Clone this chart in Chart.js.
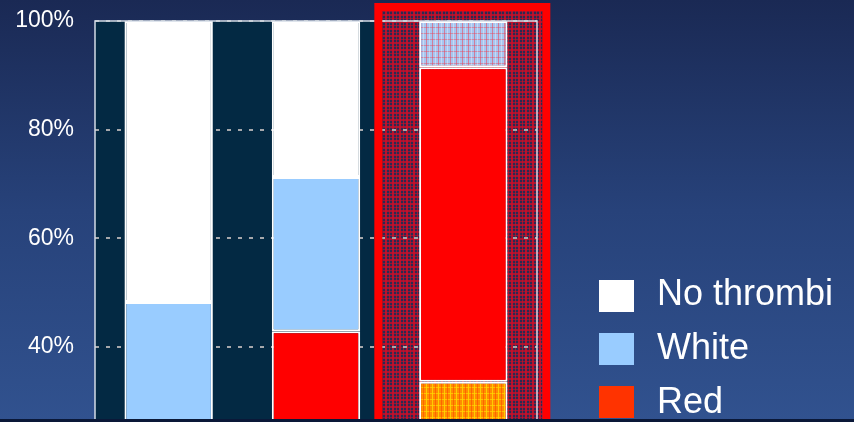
<!DOCTYPE html>
<html><head><meta charset="utf-8">
<script src="https://cdn.jsdelivr.net/npm/chart.js@4/dist/chart.umd.min.js"></script>
<style>html,body{margin:0;padding:0;overflow:hidden;background:#1b2a56}canvas{display:block}</style>
</head><body>
<canvas id="c" width="854" height="422"></canvas>
<script>
// ---- data ----
const categories = ['1', '2', '3'];
const noThrombi    = [51.7, 28.7, 8.5];
const whiteThrombi = [48.3, 28.4, 0];
const redThrombi   = [0, 42.9, 57.9];
const mixedThrombi = [0, 0, 33.6];
const yTicks = [40, 60, 80, 100];
const legendLabels = ['No thrombi', 'White', 'Red'];

// ---- patterns ----
function tile(size, base, lines) {
  const c = document.createElement('canvas');
  c.width = size; c.height = size;
  const g = c.getContext('2d');
  g.fillStyle = base; g.fillRect(0, 0, size, size);
  lines.forEach(l => { g.fillStyle = l[0]; g.fillRect(l[1], l[2], l[3], l[4]); });
  return g.createPattern(c, 'repeat');
}
const ctx = document.getElementById('c').getContext('2d');
const patRegion = tile(7, '#2c2a52', [
  ['rgba(205,15,40,0.85)', 0, 0, 2, 7], ['rgba(205,15,40,0.7)', 4, 0, 1, 7],
  ['rgba(205,15,40,0.75)', 0, 0, 7, 2], ['rgba(205,15,40,0.6)', 0, 4, 7, 1]]);
const patTop = tile(6, '#a8c6f0', [
  ['rgba(235,70,90,0.55)', 0, 0, 1, 6], ['rgba(235,70,90,0.45)', 0, 3, 6, 1],
  ['rgba(255,255,255,0.35)', 3, 0, 1, 6]]);
const patOrange = tile(6, '#ff8c00', [
  ['rgba(255,215,0,0.85)', 0, 0, 1, 6], ['rgba(255,215,0,0.7)', 0, 3, 6, 1],
  ['rgba(255,60,0,0.5)', 3, 0, 1, 6]]);

const legendColors = ['#ffffff', '#99ccff', '#ff3300'];

const decor = {
  id: 'decor',
  beforeDraw(chart) {
    const { ctx, chartArea: a, width, height } = chart;
    const x = chart.scales.x;
    ctx.save();
    const gr = ctx.createLinearGradient(0, 0, 0, height);
    gr.addColorStop(0, '#1a2954'); gr.addColorStop(0.5, '#27427a'); gr.addColorStop(1, '#31528f');
    ctx.fillStyle = gr; ctx.fillRect(0, 0, width, height);
    ctx.fillStyle = '#032943';
    ctx.fillRect(a.left, a.top, a.right - a.left, a.bottom - a.top);
    const c = x.getPixelForValue(2);
    ctx.fillStyle = patRegion;
    ctx.fillRect(c - 81, 11, 160, height);
    ctx.restore();
  },
  afterDatasetsDraw(chart) {
    const { ctx, chartArea: a, width, height } = chart;
    const x = chart.scales.x;
    ctx.save();
    ctx.strokeStyle = '#d4dce6'; ctx.lineWidth = 1.5;
    ctx.beginPath();
    ctx.moveTo(a.left, a.bottom); ctx.lineTo(a.left, a.top); ctx.lineTo(a.right, a.top); ctx.lineTo(a.right, a.bottom);
    ctx.stroke();
    const c = x.getPixelForValue(2);
    ctx.strokeStyle = '#ff0000'; ctx.lineWidth = 8;
    ctx.strokeRect(c - 85, 7, 168, height + 20);
    ctx.restore();
  },
  afterDraw(chart) {
    const { ctx, width, height } = chart;
    ctx.save();
    legendLabels.forEach((lab, i) => {
      ctx.fillStyle = legendColors[i];
      ctx.fillRect(599, 280 + i * 53, 35, 32);
      ctx.fillStyle = '#ffffff';
      ctx.font = '36px "Liberation Sans", Arial, sans-serif';
      ctx.textBaseline = 'alphabetic';
      ctx.fillText(lab, 657, 305 + i * 54);
    });
    ctx.fillStyle = '#0a1838';
    ctx.fillRect(0, 419, width, 3);
    ctx.restore();
  }
};

new Chart(ctx, {
  type: 'bar',
  data: {
    labels: categories,
    datasets: [
      { label: 'Mixed', data: mixedThrombi, backgroundColor: ['#ff8c00', '#ff8c00', patOrange] },
      { label: 'Red', data: redThrombi, backgroundColor: '#ff0000' },
      { label: 'White', data: whiteThrombi, backgroundColor: '#99ccff' },
      { label: 'No thrombi', data: noThrombi, backgroundColor: ['#ffffff', '#ffffff', patTop] }
    ].map(d => Object.assign(d, { borderColor: '#ffffff', borderWidth: 2, borderSkipped: false,
      categoryPercentage: 1, barPercentage: 0.6 }))
  },
  options: {
    responsive: false,
    animation: false,
    layout: { padding: { top: 21, right: 317, bottom: 0, left: 0 } },
    plugins: { legend: { display: false }, tooltip: { enabled: false } },
    scales: {
      x: { stacked: true, display: false },
      y: {
        stacked: true, min: 26.2, max: 100,
        afterBuildTicks: s => { s.ticks = yTicks.map(v => ({ value: v })); },
        afterFit: s => { s.width = 95; s.paddingTop = 0; s.paddingBottom = 0; },
        grid: { color: '#a6a8ac', lineWidth: 2, drawTicks: false },
        border: { display: false, dash: [4, 7] },
        ticks: { color: '#ffffff', padding: 21, font: { size: 23, family: '"Liberation Sans", Arial, sans-serif' },
          callback: v => v + '%' }
      }
    }
  },
  plugins: [decor]
});
</script>
</body></html>
